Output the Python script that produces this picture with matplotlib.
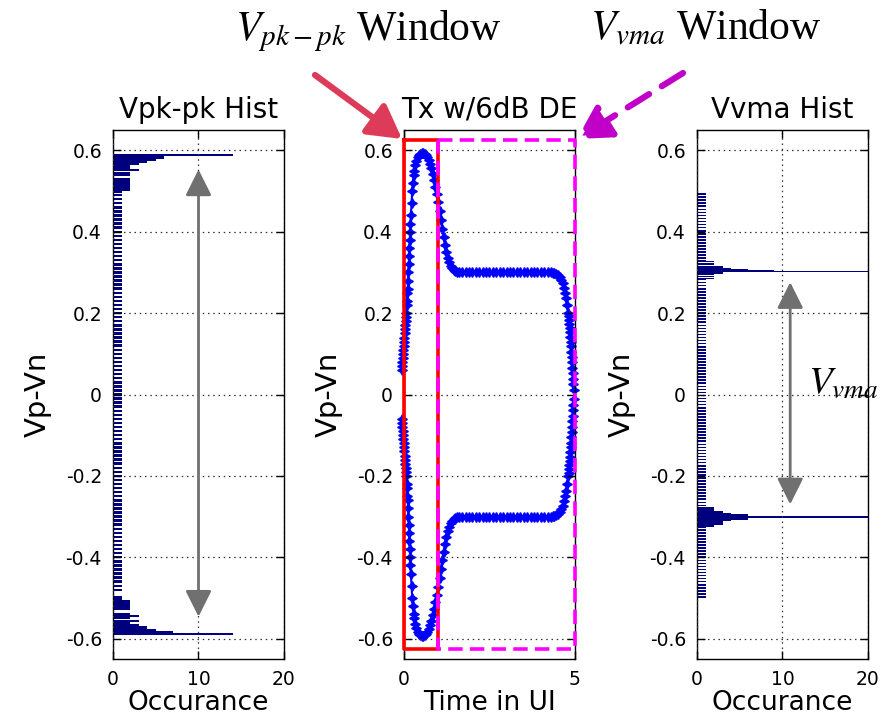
import numpy as np
import matplotlib
matplotlib.use("Agg")
import matplotlib.pyplot as plt

plt.rcParams['font.family'] = ['DejaVu Sans']
plt.rcParams['axes.unicode_minus'] = False
plt.rcParams['mathtext.fontset'] = 'stix'

# ---- data ----
# Vpk-pk histogram (left): dense count-1 bins plus clusters near the peaks
pk_base_v = np.round(np.arange(-0.48, 0.485, 0.01), 3)
pk_base_n = [1] * len(pk_base_v)
pk_top_v = [0.588, 0.582, 0.577, 0.572, 0.567, 0.561, 0.556, 0.551, 0.545, 0.540,
            0.528, 0.522, 0.516, 0.510, 0.504, 0.497, 0.491]
pk_top_n = [14, 6, 5, 4, 3, 2, 2, 3, 2, 2, 2, 2, 2, 2, 2, 1, 1]
pk_bot_v = [-0.588, -0.583, -0.578, -0.573, -0.567, -0.561, -0.556, -0.550, -0.545,
            -0.539, -0.527, -0.521, -0.515, -0.509, -0.503, -0.497]
pk_bot_n = [14, 7, 5, 4, 3, 2, 3, 2, 3, 2, 2, 2, 2, 2, 1, 1]

# Vvma histogram (right)
vma_base_v = np.round(np.arange(-0.4975, 0.5, 0.0075), 4)
vma_base_n = [1] * len(vma_base_v)
vma_top_v = [0.327, 0.320, 0.313, 0.309, 0.306, 0.303, 0.299, 0.295, 0.290, 0.285]
vma_top_n = [2, 2, 3, 4, 6, 9, 3, 2, 2, 2]
vma_bot_v = [-0.278, -0.284, -0.289, -0.293, -0.297, -0.301, -0.305, -0.309, -0.313, -0.318, -0.324]
vma_bot_n = [2, 2, 3, 4, 6, 9, 6, 4, 3, 3, 2]
vma_spike_v = [0.302, -0.301]
vma_spike_n = [30, 30]

# Tx waveform (middle), upper and lower traces
t_up = [-0.07, -0.06, -0.05, -0.04, -0.03, -0.02, -0.01, 0.00, 0.01, 0.02, 0.03, 0.04,
        0.05, 0.06, 0.07, 0.08, 0.09, 0.10, 0.11, 0.12, 0.13, 0.14, 0.15, 0.16, 0.17,
        0.18, 0.19, 0.20, 0.22, 0.24, 0.26, 0.28, 0.30, 0.33, 0.36, 0.40, 0.44, 0.48,
        0.52, 0.56, 0.60, 0.64, 0.68, 0.72, 0.76, 0.80, 0.84, 0.88, 0.92, 0.96, 1.00,
        1.04, 1.08, 1.12, 1.16, 1.20, 1.24, 1.28, 1.32, 1.36, 1.40, 1.45, 1.50, 1.55,
        1.60, 1.70, 1.80, 1.90, 2.00, 2.10, 2.20, 2.30, 2.40, 2.50, 2.60, 2.70, 2.80,
        2.90, 3.00, 3.10, 3.20, 3.30, 3.40, 3.50, 3.60, 3.70, 3.80, 3.90, 4.00, 4.10,
        4.20, 4.30, 4.35, 4.40, 4.45, 4.50, 4.55, 4.60, 4.64, 4.68, 4.71, 4.74, 4.77,
        4.80, 4.81, 4.82, 4.83, 4.84, 4.85, 4.86, 4.87, 4.88, 4.89, 4.90, 4.91, 4.92,
        4.93, 4.94, 4.95, 4.96]
v_up = [0.06, 0.07, 0.08, 0.09, 0.10, 0.11, 0.12, 0.13, 0.14, 0.15, 0.16, 0.17,
        0.18, 0.19, 0.20, 0.22, 0.23, 0.25, 0.26, 0.28, 0.30, 0.32, 0.34, 0.36, 0.38,
        0.40, 0.42, 0.44, 0.47, 0.50, 0.52, 0.54, 0.55, 0.565, 0.575, 0.583, 0.588, 0.591,
        0.593, 0.593, 0.591, 0.588, 0.583, 0.576, 0.567, 0.556, 0.543, 0.528, 0.511, 0.492, 0.472,
        0.450, 0.428, 0.406, 0.386, 0.367, 0.350, 0.336, 0.325, 0.317, 0.311, 0.306, 0.303, 0.301,
        0.300, 0.300, 0.300, 0.300, 0.300, 0.300, 0.300, 0.300, 0.300, 0.300, 0.300, 0.300, 0.300,
        0.300, 0.300, 0.300, 0.300, 0.300, 0.300, 0.300, 0.300, 0.300, 0.300, 0.300, 0.300, 0.300,
        0.300, 0.300, 0.299, 0.298, 0.296, 0.293, 0.289, 0.282, 0.273, 0.262, 0.250, 0.236, 0.219,
        0.200, 0.192, 0.183, 0.173, 0.163, 0.153, 0.142, 0.130, 0.118, 0.105, 0.092, 0.079, 0.065,
        0.052, 0.038, 0.025, 0.012]
t_dn = t_up
v_dn = [-0.06, -0.07, -0.08, -0.09, -0.10, -0.11, -0.12, -0.13, -0.14, -0.15, -0.16, -0.17,
        -0.18, -0.19, -0.20, -0.22, -0.23, -0.25, -0.26, -0.28, -0.30, -0.32, -0.34, -0.36, -0.38,
        -0.40, -0.42, -0.44, -0.47, -0.50, -0.52, -0.54, -0.55, -0.565, -0.575, -0.583, -0.588, -0.591,
        -0.593, -0.593, -0.591, -0.588, -0.583, -0.576, -0.567, -0.556, -0.543, -0.528, -0.511, -0.492, -0.472,
        -0.450, -0.428, -0.406, -0.386, -0.367, -0.350, -0.336, -0.325, -0.317, -0.311, -0.306, -0.303, -0.301,
        -0.300, -0.300, -0.300, -0.300, -0.300, -0.300, -0.300, -0.300, -0.300, -0.300, -0.300, -0.300, -0.300,
        -0.300, -0.300, -0.300, -0.300, -0.300, -0.300, -0.300, -0.300, -0.300, -0.300, -0.300, -0.300, -0.300,
        -0.300, -0.300, -0.299, -0.298, -0.296, -0.293, -0.289, -0.282, -0.273, -0.262, -0.250, -0.236, -0.219,
        -0.200, -0.192, -0.183, -0.173, -0.163, -0.153, -0.142, -0.130, -0.118, -0.105, -0.092, -0.079, -0.065,
        -0.052, -0.038, -0.025, -0.012]

yticks = [-0.6, -0.4, -0.2, 0, 0.2, 0.4, 0.6]
ytick_labels = ['-0.6', '-0.4', '-0.2', '0', '0.2', '0.4', '0.6']

navy = '#00007f'
gray = '#707070'

fig = plt.figure(figsize=(8.87, 7.21), dpi=100)
W, H = 887, 721


def make_ax(left_px, title):
    ax = fig.add_axes([left_px / W, 1 - 659 / H, 171 / W, 529 / H])
    ax.set_ylim(-0.65, 0.65)
    ax.set_yticks(yticks)
    ax.set_yticklabels(ytick_labels)
    ax.tick_params(direction='in', length=6, top=True, right=True,
                   labelsize=13.5, pad=8, width=1)
    ax.grid(True, color='#333333', linestyle=(0, (1.2, 3)), linewidth=0.9)
    ax.set_axisbelow(False)
    ax.set_title(title, fontsize=20, pad=9)
    ax.set_ylabel('Vp-Vn', fontsize=21)
    ax.yaxis.set_label_coords(-0.36, 0.5)
    for s in ax.spines.values():
        s.set_linewidth(1)
    return ax


# ---- left: Vpk-pk Hist ----
ax1 = make_ax(113, 'Vpk-pk Hist')
ax1.barh(pk_base_v, pk_base_n, height=0.006, color=navy, zorder=1)
ax1.barh(pk_top_v, pk_top_n, height=0.0058, color=navy, zorder=1)
ax1.barh(pk_bot_v, pk_bot_n, height=0.0058, color=navy, zorder=1)
ax1.set_xlim(0, 20)
ax1.set_xticks([0, 10, 20])
ax1.set_xlabel('Occurance', fontsize=19, labelpad=1)
ax1.annotate('', xy=(10, -0.546), xytext=(10, 0.553),
             arrowprops=dict(arrowstyle='<|-|>,head_length=0.8,head_width=0.4',
                             color=gray, lw=2, mutation_scale=20,
                             shrinkA=0, shrinkB=0))

# ---- middle: Tx w/6dB DE ----
ax2 = make_ax(404, 'Tx w/6dB DE')
ax2.plot(t_up, v_up, color='#0000ff', lw=1.5, marker=(4, 1, 0), ms=7,
         clip_on=False, zorder=2)
ax2.plot(t_dn, v_dn, color='#0000ff', lw=1.5, marker=(4, 1, 0), ms=7,
         clip_on=False, zorder=2)
ax2.plot([0, 1, 1, 0, 0], [0.625, 0.625, -0.625, -0.625, 0.625],
         color='#ff0000', lw=2.6, clip_on=False, zorder=3)
ax2.plot([1, 5, 5, 1, 1], [0.625, 0.625, -0.625, -0.625, 0.625],
         color='#ff00ff', lw=2.6, linestyle=(0, (4, 2)), clip_on=False, zorder=3)
ax2.set_xlim(0, 5)
ax2.set_xticks([0, 5])
ax2.set_xlabel('Time in UI', fontsize=19, labelpad=1)

# ---- right: Vvma Hist ----
ax3 = make_ax(697, 'Vvma Hist')
ax3.barh(vma_base_v, vma_base_n, height=0.004, color=navy, zorder=1)
ax3.barh(vma_top_v, vma_top_n, height=0.0045, color=navy, zorder=1)
ax3.barh(vma_bot_v, vma_bot_n, height=0.0045, color=navy, zorder=1)
ax3.barh(vma_spike_v, vma_spike_n, height=0.004, color=navy, zorder=1)
ax3.set_xlim(0, 20)
ax3.set_xticks([0, 10, 20])
ax3.set_xlabel('Occurance', fontsize=19, labelpad=1)
ax3.annotate('', xy=(10.9, -0.27), xytext=(10.9, 0.276),
             arrowprops=dict(arrowstyle='<|-|>,head_length=0.8,head_width=0.4',
                             color=gray, lw=2, mutation_scale=20,
                             shrinkA=0, shrinkB=0))
fig.text(808 / W, 1 - 393 / H, r'$V_{vma}$', fontsize=28,
         family='Liberation Serif', va='baseline')

# ---- window callouts ----
fig.text(235 / W, 1 - 40 / H, r'$V_{pk-pk}$ Window', fontsize=30,
         family='Liberation Serif', va='baseline')
fig.text(590 / W, 1 - 40 / H, r'$V_{vma}$ Window', fontsize=30,
         family='Liberation Serif', va='baseline')

ax2.annotate('', xy=(402, H - 139), xycoords='figure pixels',
             xytext=(315, H - 75), textcoords='figure pixels',
             arrowprops=dict(arrowstyle='-|>,head_length=0.8,head_width=0.45',
                             color='#dc3c5a', lw=4.5, mutation_scale=25,
                             shrinkA=0, shrinkB=0),
             annotation_clip=False)
ax2.annotate('', xy=(577, H - 139), xycoords='figure pixels',
             xytext=(683, H - 73), textcoords='figure pixels',
             arrowprops=dict(arrowstyle='-|>,head_length=0.8,head_width=0.45',
                             color='#c000c8', lw=4.5, mutation_scale=25,
                             linestyle=(0, (4, 2.4)), shrinkA=0, shrinkB=0),
             annotation_clip=False)

fig.savefig('out.png', dpi=100)
